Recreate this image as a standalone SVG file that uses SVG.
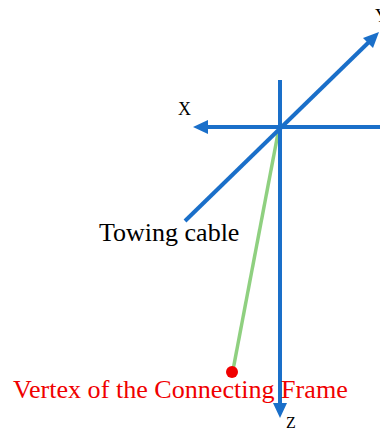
<svg xmlns="http://www.w3.org/2000/svg" width="380" height="430" viewBox="0 0 380 430">
<defs>
<style>
.ax{stroke:#1a6fc9;stroke-width:4;fill:none}
.ah{fill:#1a6fc9}
.lbl{font-family:"Liberation Serif",serif;fill:#000}
</style>
</defs>
<rect width="380" height="430" fill="#fff"/>
<g id="cable">
<line x1="279" y1="128" x2="233" y2="370" stroke="#8fd080" stroke-width="3.5"/>
</g>
<g id="connectors">
<line class="ax" x1="380" y1="127" x2="205" y2="127"/>
<polygon class="ah" points="193,127 208,120 208,134"/>
<line class="ax" x1="280" y1="80" x2="280" y2="405"/>
<polygon class="ah" points="280,418 273,403 287,403"/>
<line class="ax" x1="185" y1="221" x2="370" y2="41"/>
<polygon class="ah" points="379,32 363,38 373,48"/>
</g>
<g id="vertex">
<circle cx="232" cy="372" r="6" fill="#f00000"/>
<text x="13" y="398" font-family="Liberation Serif,serif" font-size="26.1" fill="#f00000">Vertex of the Connecting Frame</text>
</g>
<g id="labels">
<text class="lbl" x="178" y="115" font-size="18">X</text>
<text class="lbl" x="375" y="22" font-size="18">Y</text>
<text class="lbl" x="286" y="428" font-size="16">Z</text>
<text class="lbl" x="99" y="241" font-size="26">Towing cable</text>
</g>
</svg>
